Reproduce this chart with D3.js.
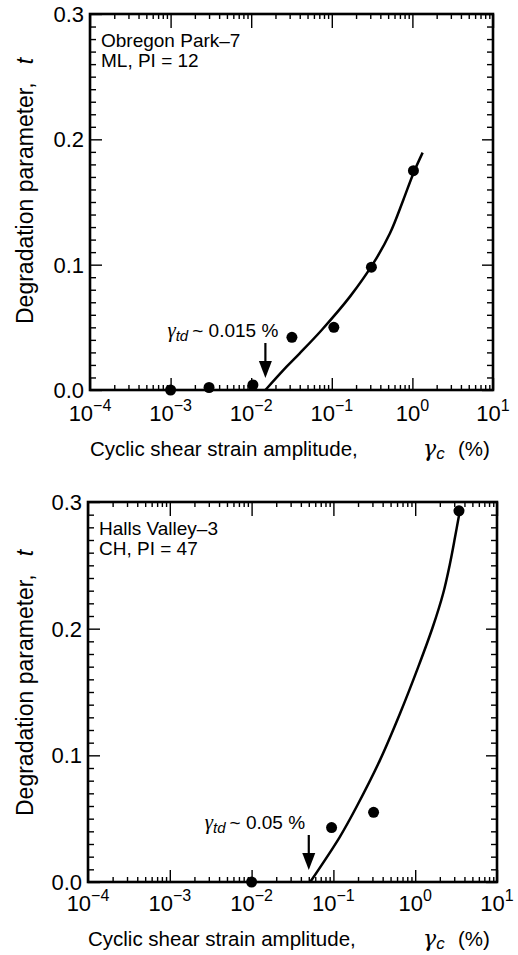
<!doctype html>
<html lang="en">
<head>
<meta charset="utf-8">
<title>Degradation parameter vs cyclic shear strain</title>
<script src="https://d3js.org/d3.v7.min.js"></script>
<style>
  body { margin: 0; background: #fff; }
  svg text { font-family: "Liberation Sans", Arial, Helvetica, sans-serif; fill: #000; }
</style>
</head>
<body>
<script>
// Axis setup (shared by both panels)
const xDomain    = [1e-4, 10];
const yDomain    = [0, 0.3];
const xMajor     = [1e-4, 1e-3, 1e-2, 1e-1, 1e0, 1e1];
const xExponents = ["\u22124", "\u22123", "\u22122", "\u22121", "0", "1"];
const yMajor     = [0, 0.1, 0.2, 0.3];
const yLabels    = ["0.0", "0.1", "0.2", "0.3"];

// Obregon Park-7 (top)
const opName        = ["Obregon Park\u20137", "ML, PI = 12"];
const opStrain      = [0.001, 0.003, 0.0105, 0.032, 0.106, 0.31, 1.03];
const opT           = [0.0, 0.002, 0.004, 0.042, 0.050, 0.098, 0.175];
const opFitStrain   = [0.015, 0.0275, 0.040, 0.075, 0.168, 0.327, 0.527, 0.771, 1.03, 1.34];
const opFitT        = [0.0, 0.0186, 0.0293, 0.0479, 0.0745, 0.101, 0.125, 0.1516, 0.173, 0.1894];
const opThreshold   = 0.015;
const opThreshLabel = "~ 0.015 %";

// Halls Valley-3 (bottom)
const hvName        = ["Halls Valley\u20133", "CH, PI = 47"];
const hvStrain      = [0.01, 0.095, 0.31, 3.43];
const hvT           = [0.0, 0.043, 0.055, 0.293];
const hvFitStrain   = [0.052, 0.12, 0.192, 0.371, 0.652, 1.09, 1.64, 2.2, 2.66, 3.07, 3.43];
const hvFitT        = [0.0, 0.0357, 0.0594, 0.0962, 0.133, 0.1698, 0.2013, 0.228, 0.2513, 0.2723, 0.2894];
const hvThreshold   = 0.05;
const hvThreshLabel = "~ 0.05 %";

// minor tick positions: 2..9 in each decade, every 0.01 on t
const xMinor = [];
xMajor.slice(0, -1).forEach(d => { for (let m = 2; m <= 9; m++) xMinor.push(m * d); });
const yMinor = d3.range(1, 30).filter(i => i % 10 !== 0).map(i => i / 100);

const svg = d3.select("body").append("svg")
    .attr("width", 518)
    .attr("height", 955);

function drawPanel(box, p)
{
    const x = d3.scaleLog().domain(xDomain).range([box.left, box.right]);
    const y = d3.scaleLinear().domain(yDomain).range([box.bottom, box.top]);
    const g = svg.append("g");

    // inward ticks on all four sides
    function addAxis(axis, tx, ty) {
        const a = g.append("g")
            .attr("transform", `translate(${tx},${ty})`)
            .call(axis);
        a.select(".domain").remove();
        a.selectAll("line").attr("stroke", "#000").attr("stroke-width", 1.4);
    }
    addAxis(d3.axisBottom(x).tickValues(xMinor).tickSize(-5).tickFormat(""), 0, box.bottom);
    addAxis(d3.axisBottom(x).tickValues(xMajor).tickSize(-12).tickFormat(""), 0, box.bottom);
    addAxis(d3.axisTop(x).tickValues(xMinor).tickSize(-5).tickFormat(""), 0, box.top);
    addAxis(d3.axisTop(x).tickValues(xMajor).tickSize(-14).tickFormat(""), 0, box.top);
    addAxis(d3.axisLeft(y).tickValues(yMinor).tickSize(-6).tickFormat(""), box.left, 0);
    addAxis(d3.axisLeft(y).tickValues(yMajor).tickSize(-12).tickFormat(""), box.left, 0);
    addAxis(d3.axisRight(y).tickValues(yMinor).tickSize(-6).tickFormat(""), box.right, 0);
    addAxis(d3.axisRight(y).tickValues(yMajor).tickSize(-11).tickFormat(""), box.right, 0);

    // frame
    g.append("rect")
        .attr("x", box.left).attr("y", box.top)
        .attr("width", box.right - box.left).attr("height", box.bottom - box.top)
        .attr("fill", "none").attr("stroke", "#000").attr("stroke-width", 2.6);

    // x tick labels 10^n
    g.selectAll(".xlab").data(xMajor).join("text")
        .attr("class", "xlab")
        .attr("x", d => x(d))
        .attr("y", box.bottom + box.xLabGap)
        .attr("text-anchor", "middle")
        .attr("font-size", 22)
        .each(function(d, i) {
            const t = d3.select(this);
            t.append("tspan").text("10");
            t.append("tspan").attr("dy", -10).attr("font-size", 16).text(xExponents[i]);
        });

    // y tick labels
    g.selectAll(".ylab").data(yMajor).join("text")
        .attr("class", "ylab")
        .attr("x", box.left - 6)
        .attr("y", d => y(d))
        .attr("dy", "0.36em")
        .attr("text-anchor", "end")
        .attr("font-size", 22)
        .text((d, i) => yLabels[i]);

    // y title
    const yt = g.append("text")
        .attr("transform", `translate(33,${box.bottom - 66}) rotate(-90)`)
        .attr("font-size", 23);
    yt.append("tspan").text("Degradation parameter,");
    yt.append("tspan").attr("dx", 18).attr("font-style", "italic").text("t");

    // x title
    const xt = g.append("text")
        .attr("x", box.left)
        .attr("y", box.bottom + box.xTitleGap)
        .attr("font-size", 20.5);
    xt.append("tspan").text("Cyclic shear strain amplitude,");
    xt.append("tspan").attr("x", 423)
        .attr("font-family", "'DejaVu Serif', 'Liberation Serif', serif")
        .attr("font-style", "italic").attr("font-size", 22).text("\u03b3");
    xt.append("tspan").attr("dy", 3).attr("font-style", "italic").attr("font-size", 17).text("c");
    xt.append("tspan").attr("dy", -3).attr("x", 458).text("(%)");

    // sample name
    g.selectAll(".name").data(p.name).join("text")
        .attr("class", "name")
        .attr("x", box.left + 11)
        .attr("y", (d, i) => box.top + 33 + i * 20)
        .attr("font-size", 19)
        .text(d => d);

    // fitted curve
    const fit = p.fitStrain.map((s, i) => ({ s: s, t: p.fitT[i] }));
    g.append("path")
        .datum(fit)
        .attr("fill", "none")
        .attr("stroke", "#000")
        .attr("stroke-width", 2.5)
        .attr("d", d3.line()
            .curve(d3.curveCatmullRom)
            .x(d => x(d.s))
            .y(d => y(d.t)));

    // measured points
    g.selectAll(".pt").data(p.strain).join("circle")
        .attr("class", "pt")
        .attr("cx", d => x(d))
        .attr("cy", (d, i) => y(p.t[i]))
        .attr("r", 5.5)
        .attr("fill", "#000");

    // threshold arrow + label
    const ax = x(p.threshold);
    g.append("line")
        .attr("x1", ax).attr("x2", ax)
        .attr("y1", box.bottom - 47).attr("y2", box.bottom - 26)
        .attr("stroke", "#000").attr("stroke-width", 2.2);
    g.append("path")
        .attr("d", `M${ax - 6.5},${box.bottom - 29} L${ax + 6.5},${box.bottom - 29} L${ax},${box.bottom - 12} Z`)
        .attr("fill", "#000");

    const lt = g.append("text")
        .attr("x", ax - p.labelDx)
        .attr("y", box.bottom - 53)
        .attr("font-size", 19);
    lt.append("tspan")
        .attr("font-family", "'Liberation Serif', 'Times New Roman', serif")
        .attr("font-style", "italic").attr("font-size", 21).text("\u03b3");
    lt.append("tspan").attr("dy", 4).attr("font-style", "italic").attr("font-size", 15).text("td");
    lt.append("tspan").attr("dy", -4).attr("dx", 4).text(p.threshLabel);
}

drawPanel({ left: 90, right: 493, top: 14, bottom: 390, xLabGap: 31, xTitleGap: 66 }, {
    name: opName, strain: opStrain, t: opT,
    fitStrain: opFitStrain, fitT: opFitT,
    threshold: opThreshold, threshLabel: opThreshLabel, labelDx: 98
});

drawPanel({ left: 88, right: 497, top: 502, bottom: 882, xLabGap: 29, xTitleGap: 64 }, {
    name: hvName, strain: hvStrain, t: hvT,
    fitStrain: hvFitStrain, fitT: hvFitT,
    threshold: hvThreshold, threshLabel: hvThreshLabel, labelDx: 104
});
</script>
</body>
</html>
